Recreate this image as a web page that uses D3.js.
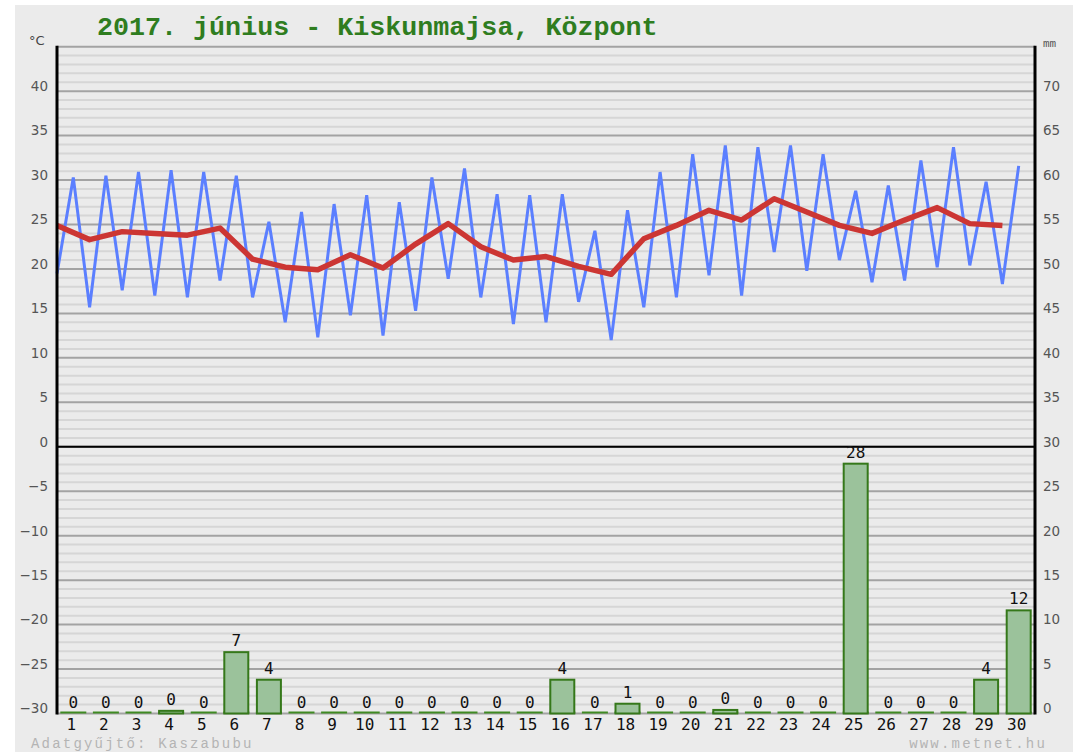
<!DOCTYPE html>
<html><head><meta charset="utf-8">
<script src="https://cdn.jsdelivr.net/npm/d3@7"></script>
<style>
html,body{margin:0;padding:0;background:#fff;}
svg{display:block;}
</style></head>
<body>
<svg id="chart" width="1073" height="752"></svg>
<script>
const title = "2017. június - Kiskunmajsa, Központ";
const days = d3.range(1, 31);
const tempMin = [19.5,15.7,17.6,17.0,16.8,18.7,16.8,14.0,12.3,14.8,12.5,15.3,18.9,16.8,13.8,14.0,16.3,12.0,15.7,16.8,19.3,17.0,21.9,19.8,21.0,18.5,18.7,20.2,20.4,18.3];
const tempMax = [30.3,30.5,30.9,31.1,30.9,30.5,25.3,26.4,27.3,28.3,27.5,30.3,31.3,28.4,28.3,28.4,24.3,26.6,30.9,32.9,33.9,33.7,33.9,32.9,28.8,29.4,32.2,33.7,29.8,31.6];
const tempAvg = [24.9,23.3,24.2,24.0,23.8,24.6,21.1,20.2,19.9,21.6,20.1,22.8,25.1,22.5,21.0,21.4,20.3,19.4,23.4,24.9,26.6,25.5,27.9,26.4,24.9,24.0,25.5,26.9,25.1,24.9];
const precip = [0,0,0,0.3,0,6.9,3.8,0,0,0,0,0,0,0,0,3.8,0,1.1,0,0,0.4,0,0,0,28.1,0,0,0,3.8,11.6];
const leftTicks = d3.range(-30, 41, 5);
const rightTicks = d3.range(0, 71, 5);
const leftUnit = "°C", rightUnit = "mm";
const footerLeft = "Adatgyűjtő: Kaszabubu", footerRight = "www.metnet.hu";

const svg = d3.select("#chart");
const L = 57, R = 1035, T = 46.7, B = 713.5;

svg.append("rect").attr("x",15).attr("y",5).attr("width",1058).attr("height",747).attr("fill","#ebebeb");

const y = d3.scaleLinear().domain([-30,45]).range([B,T]);
const yR = d3.scaleLinear().domain([0,75]).range([B,T]);
const xb = d3.scaleBand().domain(days).range([L,R]);
const xl = d3.scaleLinear().domain([0,30]).range([L,R]);

// minor grid
svg.append("g").selectAll("line").data(d3.range(-30,46,1).filter(v=>v%5!==0)).join("line")
  .attr("x1",L).attr("x2",R).attr("y1",d=>y(d)).attr("y2",d=>y(d))
  .attr("stroke","#d6d6d6").attr("stroke-width",2);
// major grid
svg.append("g").selectAll("line").data(d3.range(-30,46,5)).join("line")
  .attr("x1",L).attr("x2",R).attr("y1",d=>y(d)).attr("y2",d=>y(d))
  .attr("stroke","#a3a3a3").attr("stroke-width",2);
// zero line
svg.append("line").attr("x1",L).attr("x2",R).attr("y1",y(0)).attr("y2",y(0)).attr("stroke","#000").attr("stroke-width",2);

// bars
const bw = 24;
const bars = svg.append("g");
bars.selectAll("line").data(days).join("line")
  .attr("x1",d=>xb(d)+xb.bandwidth()/2-bw/2-1)
  .attr("x2",d=>xb(d)+xb.bandwidth()/2+bw/2+1)
  .attr("y1",yR(0)-1).attr("y2",yR(0)-1)
  .attr("stroke","#3f8a22").attr("stroke-width",2);
bars.selectAll("rect").data(days.filter(d=>precip[d-1]>0)).join("rect")
  .attr("x",d=>xb(d)+xb.bandwidth()/2-bw/2)
  .attr("y",d=>yR(precip[d-1]))
  .attr("width",bw)
  .attr("height",d=>Math.max(0,yR(0)-yR(precip[d-1])))
  .attr("fill","#9bc29b").attr("stroke","#35781a").attr("stroke-width",2);
bars.selectAll("text").data(days).join("text")
  .attr("x",d=>xb(d)+xb.bandwidth()/2)
  .attr("y",d=>yR(precip[d-1])-6)
  .attr("text-anchor","middle")
  .attr("font-family","DejaVu Sans Mono, monospace").attr("font-size",16).attr("fill","#111")
  .text(d=>Math.round(precip[d-1]));

// blue min/max line
const zig = [];
days.forEach((d,i)=>{ zig.push([xl(i), tempMin[i]]); zig.push([xl(i+0.5), tempMax[i]]); });
svg.append("path").datum(zig)
  .attr("d", d3.line().x(p=>p[0]).y(p=>y(p[1])))
  .attr("fill","none").attr("stroke","#5b7fff").attr("stroke-width",3).attr("stroke-linejoin","miter");
// red avg line
svg.append("path").datum(days)
  .attr("d", d3.line().x(d=>xl(d-1)).y(d=>y(tempAvg[d-1])))
  .attr("fill","none").attr("stroke","#cc3633").attr("stroke-width",5.5).attr("stroke-linejoin","round");

// axes lines
svg.append("line").attr("x1",L).attr("x2",L).attr("y1",T-1).attr("y2",B+1).attr("stroke","#000").attr("stroke-width",3);
svg.append("line").attr("x1",R).attr("x2",R).attr("y1",T-1).attr("y2",B+1).attr("stroke","#000").attr("stroke-width",3);

// left axis
const la = svg.append("g").attr("transform",`translate(${L-9},0)`)
  .call(d3.axisLeft(y).tickValues(leftTicks).tickSize(0).tickPadding(0));
la.select(".domain").remove();
la.selectAll("text").attr("font-family","DejaVu Sans, sans-serif").attr("font-size",13.5).attr("fill","#555").attr("dy","-0.05em");
// right axis
const ra = svg.append("g").attr("transform",`translate(${R+8},0)`)
  .call(d3.axisRight(yR).tickValues(rightTicks).tickSize(0).tickPadding(0));
ra.select(".domain").remove();
ra.selectAll("text").attr("font-family","DejaVu Sans, sans-serif").attr("font-size",13.5).attr("fill","#555").attr("dy","-0.05em");
// bottom axis labels
const ba = svg.append("g").attr("transform",`translate(-2,${B+4})`)
  .call(d3.axisBottom(xb).tickSize(0).tickPadding(0));
ba.select(".domain").remove();
ba.selectAll("text").attr("font-family","DejaVu Sans Mono, monospace").attr("font-size",16).attr("fill","#111").attr("dy","0.8em");

// units
svg.append("text").attr("x",29).attr("y",45).attr("font-family","DejaVu Sans, sans-serif").attr("font-size",13).attr("fill","#444").text(leftUnit);
svg.append("text").attr("x",1043).attr("y",47).attr("font-family","Liberation Mono, monospace").attr("font-size",11).attr("fill","#555").text(rightUnit);

// title
svg.append("text").attr("x",97).attr("y",35)
  .attr("font-family","Liberation Mono, Courier New, monospace").attr("font-weight","bold").attr("font-size",26.7)
  .attr("fill","#2f7d1f").text(title);

// footer
svg.append("text").attr("x",31).attr("y",748).attr("font-family","Liberation Mono, monospace").attr("font-size",14).attr("letter-spacing",2.2).attr("fill","#b4b4b4").text(footerLeft);
svg.append("text").attr("x",1047).attr("y",748).attr("text-anchor","end").attr("font-family","Liberation Mono, monospace").attr("font-size",14).attr("letter-spacing",2.2).attr("fill","#b4b4b4").text(footerRight);
</script>
</body></html>
